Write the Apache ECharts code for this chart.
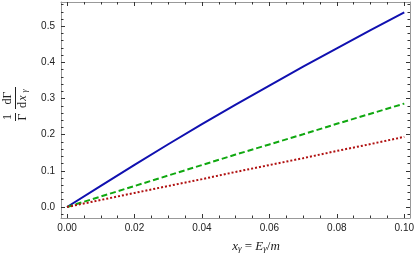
<!DOCTYPE html>
<html><head><meta charset="utf-8">
<script src="https://cdn.jsdelivr.net/npm/echarts@6/dist/echarts.min.js"></script>
<style>html,body{margin:0;padding:0;background:#fff}#c{width:415px;height:260px}</style>
</head><body><div id="c"></div>
<script>
var xValues = [0, 0.01, 0.02, 0.03, 0.04, 0.05, 0.06, 0.07, 0.08, 0.09, 0.1];
var blueValues = [0, 0.0585, 0.1165, 0.1735, 0.229, 0.283, 0.336, 0.388, 0.439, 0.489, 0.538];
var greenValues = [0, 0.029, 0.058, 0.087, 0.116, 0.145, 0.173, 0.201, 0.230, 0.258, 0.286];
var redValues = [0, 0.0194, 0.0388, 0.058, 0.077, 0.097, 0.116, 0.135, 0.155, 0.174, 0.194];
var xMajorTicks = [0, 0.02, 0.04, 0.06, 0.08, 0.1];
var xMinorTicks = [0.005,0.01,0.015,0.025,0.03,0.035,0.045,0.05,0.055,0.065,0.07,0.075,0.085,0.09,0.095];
var yMajorTicks = [0, 0.1, 0.2, 0.3, 0.4, 0.5];
var yMinorTicks = [-0.02,0.02,0.04,0.06,0.08,0.12,0.14,0.16,0.18,0.22,0.24,0.26,0.28,0.32,0.34,0.36,0.38,0.42,0.44,0.46,0.48,0.52,0.54,0.56];

function pairs(ys){ return xValues.map(function(x,i){return [x, ys[i]];}); }

var XMIN = -0.0018, XMAX = 0.1017, YMIN = -0.0305, YMAX = 0.567;
var lineCol = '#999', tickCol = '#333';

function xAx(pos, major, show) {
  return {
    type: 'value', position: pos, offset: 0, min: XMIN, max: XMAX, gridIndex: 0,
    axisLine: { show: show, onZero: false, lineStyle: { color: lineCol, width: 1 } },
    axisTick: { show: true, inside: true, length: major ? 4 : 2.5,
      customValues: major ? xMajorTicks : xMinorTicks, lineStyle: { color: tickCol, width: 1 } },
    axisLabel: { show: false }, splitLine: { show: false }
  };
}
function yAx(pos, major, show) {
  return {
    type: 'value', position: pos, offset: 0, min: YMIN, max: YMAX, gridIndex: 0,
    axisLine: { show: show, onZero: false, lineStyle: { color: lineCol, width: 1 } },
    axisTick: { show: true, inside: true, length: major ? 4 : 2.5,
      customValues: major ? yMajorTicks : yMinorTicks, lineStyle: { color: tickCol, width: 1 } },
    axisLabel: { show: false }, splitLine: { show: false }
  };
}

var xMain = xAx('bottom', true, true);
xMain.axisLabel = { show: true, customValues: xMajorTicks, margin: 5,
  fontFamily: 'Liberation Sans', fontSize: 10, color: '#222',
  formatter: function(v){ return v.toFixed(2); } };
xMain.name = '{i|x}{s|γ}{t| = }{i|E}{s|γ}{t|/}{i|m}';
xMain.nameLocation = 'middle';
xMain.nameGap = 22;
xMain.nameMoveOverlap = false;
xMain.nameTextStyle = { padding: [0,0,0,41], rich: {
  i: { fontFamily: 'Liberation Serif', fontStyle: 'italic', fontSize: 13, color: '#222' },
  s: { fontFamily: 'Liberation Serif', fontStyle: 'italic', fontSize: 9, color: '#222', verticalAlign: 'bottom', padding: [4,0,0,0] },
  t: { fontFamily: 'Liberation Serif', fontSize: 13, color: '#222' }
}};

var yMain = yAx('left', true, true);
yMain.axisLabel = { show: true, customValues: yMajorTicks, margin: 6,
  fontFamily: 'Liberation Sans', fontSize: 10, color: '#222',
  formatter: function(v){ return v.toFixed(1); } };
yMain.name = '{a|1}{g|}{b|dΓ}\n{la|}{g2|}{lb|}\n{a|Γ}{g|}{du|d}{xi|x}{s|γ}';
yMain.nameLocation = 'middle';
yMain.nameRotate = 90;
yMain.nameGap = 32;
yMain.nameMoveOverlap = false;
var serif = 'Liberation Serif';
yMain.nameTextStyle = { padding: [0,0,0,12], rich: {
  a: { fontFamily: serif, fontSize: 12, color: '#222', width: 8, align: 'center', lineHeight: 12 },
  g: { width: 4, lineHeight: 12 },
  b: { fontFamily: serif, fontSize: 12, color: '#222', width: 22, align: 'center', lineHeight: 12 },
  du: { fontFamily: serif, fontSize: 12, color: '#222', width: 8, align: 'right', lineHeight: 12 },
  xi: { fontFamily: serif, fontStyle: 'italic', fontSize: 12, color: '#222', width: 6, align: 'left', lineHeight: 12 },
  s: { fontFamily: serif, fontStyle: 'italic', fontSize: 8, color: '#222', width: 8, align: 'left', verticalAlign: 'bottom', lineHeight: 12 },
  la: { width: 8, height: 1, backgroundColor: '#222', lineHeight: 3 },
  g2: { width: 4, height: 1, lineHeight: 3 },
  lb: { width: 22, height: 1, backgroundColor: '#222', lineHeight: 3 }
}};

var option = {
  backgroundColor: '#fff',
  animation: false,
  grid: { left: 61, top: 2, width: 349, height: 216, containLabel: false, outerBoundsMode: 'none' },
  xAxis: [xMain, xAx('bottom', false, false), xAx('top', true, true), xAx('top', false, false)],
  yAxis: [yMain, yAx('left', false, false), yAx('right', true, true), yAx('right', false, false)],
  series: [
    { type: 'line', data: pairs(blueValues), showSymbol: false, xAxisIndex: 0, yAxisIndex: 0,
      lineStyle: { color: '#1010b0', width: 2 }, z: 3 },
    { type: 'line', data: pairs(greenValues), showSymbol: false, xAxisIndex: 0, yAxisIndex: 0,
      lineStyle: { color: '#10a810', width: 2, type: [6, 3] }, z: 3 },
    { type: 'line', data: pairs(redValues), showSymbol: false, xAxisIndex: 0, yAxisIndex: 0,
      lineStyle: { color: '#b01010', width: 2, type: [2, 2] }, z: 3 }
  ]
};
echarts.init(document.getElementById('c'), null, { renderer: 'canvas' }).setOption(option);
</script></body></html>
